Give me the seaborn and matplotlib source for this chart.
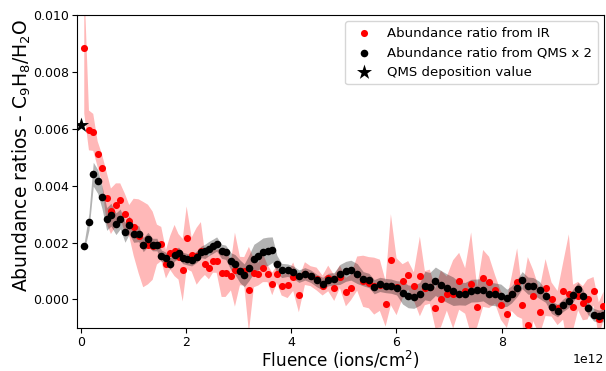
import numpy as np
import pandas as pd
import matplotlib
matplotlib.use("Agg")
import matplotlib.pyplot as plt
import seaborn as sns

# Fluence values (units of 1e12 ions/cm^2)
fluence_e12 = [
    0.063, 0.152, 0.234, 0.317, 0.399, 0.489, 0.570, 0.665, 0.747, 0.837,
    0.918, 1.002, 1.097, 1.184, 1.274, 1.363, 1.445, 1.527, 1.616, 1.698,
    1.780, 1.855, 1.935, 2.010, 2.105, 2.200, 2.281, 2.357, 2.433, 2.510,
    2.580, 2.675, 2.751, 2.852, 2.928, 3.023, 3.105, 3.194, 3.289, 3.371,
    3.460, 3.549, 3.637, 3.726, 3.816,
    3.930, 4.036, 4.144, 4.259, 4.367, 4.481, 4.595, 4.702, 4.816, 4.924,
    5.038, 5.133, 5.253, 5.367, 5.475, 5.576, 5.684, 5.793, 5.894, 6.002,
    6.116, 6.222, 6.331, 6.445, 6.540, 6.635, 6.740, 6.844, 6.958, 7.078,
    7.192, 7.306, 7.420, 7.534, 7.648, 7.762, 7.876, 7.985, 8.099, 8.188,
    8.295, 8.390, 8.498, 8.599, 8.721, 8.835, 8.949, 9.063, 9.169, 9.278,
    9.359, 9.454, 9.544, 9.633, 9.747, 9.848, 9.937,
]

# IR abundance ratio (units of 1e-3) and its spread
ir_ratio_e3 = [
    8.83, 5.94, 5.87, 5.11, 4.61, 3.57, 3.10, 3.33, 3.48, 3.01,
    2.77, 2.54, 2.22, 1.93, 1.93, 1.89, 1.93, 1.95, 1.24, 1.64,
    1.72, 1.50, 1.03, 2.17, 1.58, 1.52, 1.72, 1.26, 1.11, 1.34,
    1.34, 0.94, 0.94, 0.82, 1.05, 1.00, 0.99, 0.35, 0.93, 0.89,
    1.11, 0.91, 0.55, 0.88, 0.49,
    0.50, 0.80, 0.15, 0.91, 0.82, 0.72, 0.49, 0.74, 0.40, 0.80,
    0.26, 0.42, 0.91, 0.64, 0.59, 0.47, 0.50, -0.15, 1.40, 0.45,
    0.64, 0.85, 0.46, 0.81, 0.40, 0.45, -0.31, 0.02, 0.21, 0.18,
    0.64, 0.30, 0.56, -0.27, 0.74, 0.60, 0.35, -0.21, -0.50, 0.20,
    0.60, -0.18, -0.91, 0.14, -0.45, 0.42, 0.00, -0.30, 0.29, 0.19,
    -0.28, 0.12, -0.13, 0.00, 0.29, -0.70, -0.23,
]
ir_err_e3 = [
    2.3, 0.7, 0.65, 0.45, 0.5, 0.9, 0.8, 0.75, 0.6, 0.7,
    0.55, 1.0, 1.3, 1.5, 1.4, 1.2, 0.7, 0.6, 0.5, 0.6,
    0.9, 0.8, 1.1, 1.1, 0.6, 1.0, 1.0, 0.4, 0.4, 0.4,
    0.4, 0.85, 0.85, 0.5, 1.3, 0.5, 0.5, 1.5, 0.5, 0.4,
    0.5, 0.3, 0.4, 0.3, 0.35,
    0.45, 0.5, 0.6, 0.4, 0.35, 0.4, 0.35, 0.45, 0.45, 0.4,
    0.5, 0.45, 0.6, 0.9, 0.9, 1.0, 0.9, 0.8, 1.6, 1.0,
    0.6, 0.5, 0.5, 1.4, 0.6, 0.6, 0.7, 1.0, 0.6, 1.2,
    1.0, 0.8, 1.8, 0.7, 1.0, 0.9, 0.5, 0.5, 0.5, 0.6,
    1.2, 0.5, 2.4, 0.9, 0.8, 1.0, 0.6, 0.6, 1.0, 2.1,
    0.8, 0.5, 0.6, 0.7, 0.5, 0.6, 0.5,
]

# QMS abundance ratio x 2 (units of 1e-3) and its spread
qms_ratio_e3 = [
    1.87, 2.74, 4.40, 4.15, 3.60, 2.83, 2.98, 2.66, 2.83, 2.36,
    2.62, 2.31, 2.31, 1.93, 2.11, 1.93, 1.93, 1.54, 1.46, 1.26,
    1.55, 1.64, 1.46, 1.42, 1.38, 1.50, 1.67, 1.69, 1.79, 1.87,
    1.95, 1.69, 1.66, 1.34, 1.23, 0.99, 0.85, 1.11, 1.44, 1.54,
    1.66, 1.69, 1.75, 1.25, 1.02,
    1.03, 0.96, 0.82, 0.90, 0.82, 0.67, 0.56, 0.70, 0.73, 0.88,
    0.99, 1.03, 0.91, 0.73, 0.67, 0.45, 0.53, 0.49, 0.47, 0.41,
    0.24, 0.11, 0.09, 0.20, 0.49, 0.45, 0.64, 0.52, 0.40, 0.29,
    0.21, 0.20, 0.31, 0.32, 0.35, 0.21, 0.18, 0.14, 0.06, 0.18,
    0.41, 0.68, 0.49, 0.47, 0.33, 0.12, -0.27, -0.39, -0.20, -0.06,
    0.15, 0.38, 0.14, -0.29, -0.53, -0.59, -0.56,
]
qms_err_e3 = [
    0.15, 0.3, 0.42, 0.42, 0.4, 0.4, 0.4, 0.38, 0.35, 0.35,
    0.32, 0.3, 0.28, 0.25, 0.25, 0.22, 0.22, 0.2, 0.2, 0.2,
    0.2, 0.2, 0.2, 0.2, 0.2, 0.2, 0.2, 0.25, 0.25, 0.25,
    0.25, 0.25, 0.25, 0.3, 0.35, 0.4, 0.4, 0.45, 0.5, 0.5,
    0.5, 0.5, 0.45, 0.3, 0.25,
    0.22, 0.22, 0.22, 0.22, 0.22, 0.22, 0.22, 0.22, 0.22, 0.35,
    0.35, 0.35, 0.35, 0.25, 0.25, 0.25, 0.25, 0.25, 0.25, 0.25,
    0.4, 0.4, 0.4, 0.4, 0.5, 0.5, 0.5, 0.5, 0.5, 0.5,
    0.4, 0.4, 0.4, 0.4, 0.4, 0.4, 0.4, 0.4, 0.3, 0.3,
    0.3, 0.3, 0.3, 0.3, 0.3, 0.22, 0.22, 0.22, 0.22, 0.22,
    0.22, 0.22, 0.22, 0.22, 0.22, 0.22, 0.22,
]

deposition_fluence_e12 = [0.0]
deposition_ratio_e3 = [6.12]

label_ir = "Abundance ratio from IR"
label_qms = "Abundance ratio from QMS x 2"
label_dep = "QMS deposition value"
xlabel = "Fluence (ions/cm$^2$)"
ylabel = "Abundance ratios - C$_9$H$_8$/H$_2$O"

df = pd.DataFrame({
    "fluence": np.array(fluence_e12) * 1e12,
    "ir": np.array(ir_ratio_e3) * 1e-3,
    "ir_err": np.array(ir_err_e3) * 1e-3,
    "qms": np.array(qms_ratio_e3) * 1e-3,
    "qms_err": np.array(qms_err_e3) * 1e-3,
})
dep = pd.DataFrame({
    "fluence": np.array(deposition_fluence_e12) * 1e12,
    "ratio": np.array(deposition_ratio_e3) * 1e-3,
})

sns.set_style("ticks")
plt.rcParams["font.family"] = ["DejaVu Sans"]
plt.rcParams["text.color"] = "black"
plt.rcParams["axes.labelcolor"] = "black"

fig, ax = plt.subplots(figsize=(6.06, 3.71), dpi=100)
fig.subplots_adjust(left=0.127, right=0.997, top=0.96, bottom=0.116)

ax.fill_between(df["fluence"], df["ir"] - df["ir_err"], df["ir"] + df["ir_err"],
                color="red", alpha=0.28, lw=0, zorder=1)
ax.fill_between(df["fluence"], df["qms"] - df["qms_err"], df["qms"] + df["qms_err"],
                color="black", alpha=0.3, lw=0, zorder=1)

sns.scatterplot(data=df, x="fluence", y="ir", color="red", s=26, linewidth=0,
                label=label_ir, ax=ax, zorder=3)
sns.scatterplot(data=df, x="fluence", y="qms", color="black", s=30, linewidth=0,
                label=label_qms, ax=ax, zorder=4)
sns.scatterplot(data=dep, x="fluence", y="ratio", color="black", marker="*", s=130,
                linewidth=0, label=label_dep, ax=ax, zorder=5)

ax.set_xlim(-0.076e12, 9.95e12)
ax.set_ylim(-0.001, 0.010)
ax.set_xlabel(xlabel, fontsize=12.2, color="black")
ax.set_ylabel(ylabel, fontsize=13.5, color="black")
ax.xaxis.set_label_coords(0.5, -0.067)
ax.yaxis.set_label_coords(-0.084, 0.55)
ax.tick_params(labelsize=9, length=3.5, pad=2.5, colors="black")
ax.xaxis.get_offset_text().set_fontsize(9)
ax.xaxis.get_offset_text().set_color("black")
for sp in ax.spines.values():
    sp.set_visible(True)
    sp.set_color("black")

leg = ax.legend(loc="upper right", fontsize=9.5, frameon=True)
for t in leg.get_texts():
    t.set_color("black")

fig.savefig("out.png", dpi=100)
